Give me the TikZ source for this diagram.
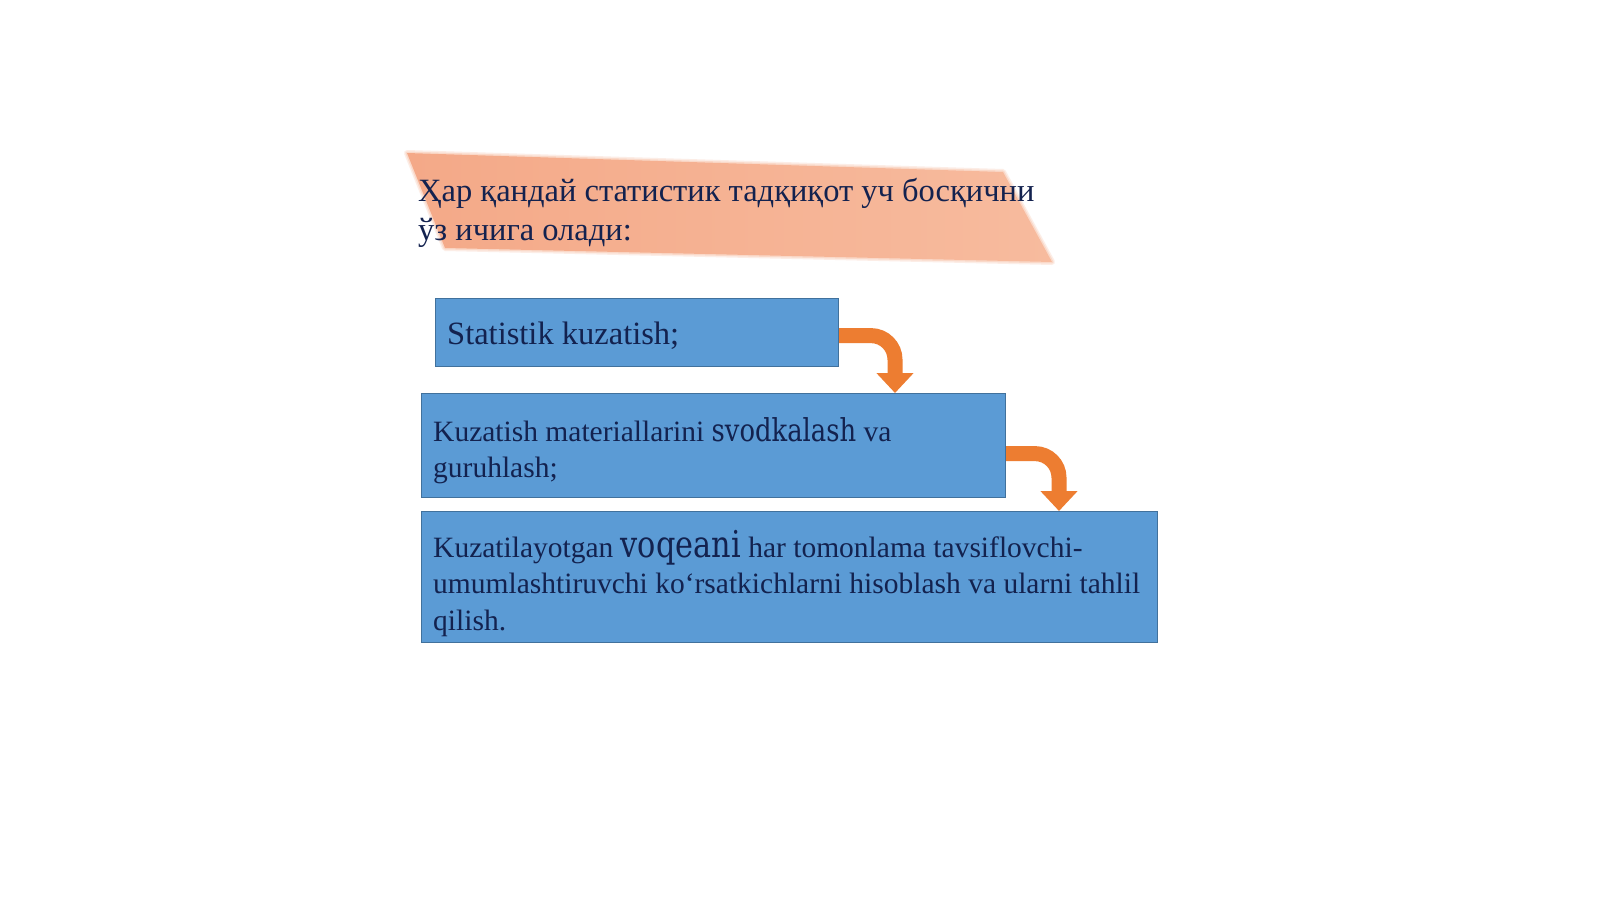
\documentclass[tikz,border=0pt]{standalone}
\usepackage{fontspec}
\setmainfont{Liberation Serif}
\newfontfamily\altserif{DejaVu Serif}[FakeStretch=0.82]
\usetikzlibrary{arrows.meta}
\definecolor{boxblue}{HTML}{5B9BD5}
\definecolor{boxedge}{HTML}{41719C}
\definecolor{arroworange}{HTML}{ED7D31}
\definecolor{navy}{HTML}{13224F}
\definecolor{salmonA}{HTML}{F4A988}
\definecolor{salmonB}{HTML}{F7BB9E}
\begin{document}
\begin{tikzpicture}[x=1pt,y=-1pt,
  stepbox/.style={draw=boxedge,line width=1.2pt,fill=boxblue,rectangle,anchor=north west,inner sep=0pt},
  boxtext/.style={anchor=base west,inner sep=0pt,text=navy,align=left},
  bent/.style={draw=arroworange,line width=15pt,rounded corners=24pt,-{Triangle[width=36pt,length=20pt]}}]
\fill[white] (0,0) rectangle (1600,899);
% title banner (soft edged)
\draw[draw=salmonB,line width=6pt,draw opacity=0.25,line join=round] (407,153) -- (1003,172) -- (1052,262) -- (445,248) -- cycle;
\draw[draw=salmonB,line width=3pt,draw opacity=0.4,line join=round] (407,153) -- (1003,172) -- (1052,262) -- (445,248) -- cycle;
\shade[left color=salmonA,right color=salmonB] (407,153) -- (1003,172) -- (1052,262) -- (445,248) -- cycle;
\node[boxtext,font=\fontsize{32.5}{39}\selectfont] (title) at (418,240)
  {Ҳар қандай статистик тадқиқот уч босқични\\ўз ичига олади:};
% boxes
\node[stepbox,minimum width=403pt,minimum height=68pt] (b1) at (435,298) {};
\node[stepbox,minimum width=584pt,minimum height=104pt] (b2) at (421,393) {};
\node[stepbox,minimum width=736pt,minimum height=131pt] (b3) at (421,511) {};
\node[boxtext,font=\fontsize{32.5}{40}\selectfont] (t1) at (447,344) {Statistik kuzatish;};
\node[boxtext,font=\fontsize{29.5}{36}\selectfont] (t2) at (433,477)
  {Kuzatish materiallarini {\altserif\fontsize{31.5}{36}\selectfont svodkalash} va\\guruhlash;};
\node[boxtext,font=\fontsize{29.5}{36.5}\selectfont] (t3) at (433,630)
  {Kuzatilayotgan {\altserif\fontsize{37}{36}\selectfont voqeani} har tomonlama tavsiflovchi-\\umumlashtiruvchi ko‘rsatkichlarni hisoblash va ularni tahlil\\qilish.};
% bent arrows
\draw[bent] ([yshift=-3pt]b1.east) -| ([xshift=474pt]b2.north west);
\draw[bent] ([yshift=-8pt]b2.east) -| ([xshift=638pt]b3.north west);
\pgfresetboundingbox
\useasboundingbox (0,0) rectangle (1600,899);
\end{tikzpicture}
\end{document}
